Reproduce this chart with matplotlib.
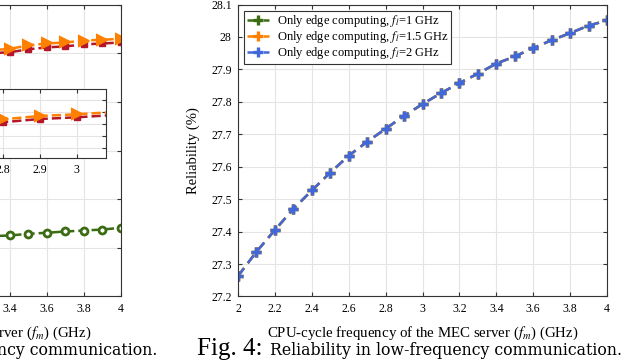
import matplotlib
matplotlib.use('Agg')
import matplotlib.pyplot as plt

plt.rcParams['font.family'] = 'serif'
plt.rcParams['font.serif'] = ['Liberation Serif', 'DejaVu Serif']
plt.rcParams['mathtext.fontset'] = 'stix'

# Fig. 4 dados (as três curvas se sobrepõem)
freq_mec = [2.0, 2.1, 2.2, 2.3, 2.4, 2.5, 2.6, 2.7, 2.8, 2.9, 3.0,
            3.1, 3.2, 3.3, 3.4, 3.5, 3.6, 3.7, 3.8, 3.9, 4.0]
conf_fl1 = [27.263, 27.338, 27.405, 27.470, 27.527, 27.582, 27.634, 27.677,
            27.717, 27.757, 27.793, 27.827, 27.858, 27.887, 27.918, 27.940,
            27.966, 27.990, 28.012, 28.035, 28.051]
conf_fl15 = list(conf_fl1)
conf_fl2 = list(conf_fl1)
rotulos = ['Only edge computing, $f_l$=1 GHz',
           'Only edge computing, $f_l$=1.5 GHz',
           'Only edge computing, $f_l$=2 GHz']

# Fig. 3 (parte visível à esquerda)
freq_esq = [3.2, 3.3, 3.4, 3.5, 3.6, 3.7, 3.8, 3.9, 4.0]
esq_laranja = [75.1, 75.3, 75.45, 75.8, 76.0, 76.1, 76.3, 76.38, 76.48]
esq_vermelho = [74.8, 75.0, 75.1, 75.4, 75.6, 75.7, 75.9, 76.0, 76.1]
esq_verde = [56.1, 56.2, 56.27, 56.44, 56.55, 56.68, 56.78, 56.88, 57.06]
inset_x = [2.7, 2.8, 2.9, 3.0, 3.1]
inset_laranja = [75.80, 75.839, 75.867, 75.881, 75.90]
inset_vermelho = [75.78, 75.815, 75.842, 75.856, 75.875]

verde = '#3b6b12'
laranja = '#ff8000'
azul = '#4068d8'
vermelho = '#b5162a'
cinza_grade = '#e4e4e4'


def estilo(ax):
    ax.grid(True, color=cinza_grade, lw=0.8)
    ax.set_axisbelow(True)
    ax.tick_params(direction='in', top=True, right=True, length=3,
                   labelsize=8.5, color='#333333', pad=4.5)
    for s in ax.spines.values():
        s.set_color('#333333')
        s.set_linewidth(0.8)


fig = plt.figure(figsize=(6.28, 3.6), dpi=100)

rot_x = 'CPU-cycle frequency of the MEC server ($f_m$) (GHz)'

# ---- figura da esquerda (cortada) ----
ax_esq = fig.add_axes([-0.3965, 0.1764, 0.589, 0.811])
ax_esq.plot(freq_esq, esq_vermelho, '--s', color=vermelho, lw=1.8, ms=5)
ax_esq.plot(freq_esq, esq_laranja, '-->', color=laranja, lw=1.8, ms=7,
            mfc=laranja, mew=1.5)
ax_esq.plot(freq_esq, esq_verde, '--o', color=verde, lw=1.8, ms=5,
            mfc='white', mew=2)
ax_esq.set_xlim(2, 4)
ax_esq.set_ylim(50, 80)
ax_esq.set_xticks([2, 2.2, 2.4, 2.6, 2.8, 3, 3.2, 3.4, 3.6, 3.8, 4])
ax_esq.set_xticklabels(['2', '2.2', '2.4', '2.6', '2.8', '3', '3.2', '3.4', '3.6', '3.8', '4'])
ax_esq.set_yticks([50, 55, 60, 65, 70, 75, 80])
estilo(ax_esq)
ax_esq.set_xlabel(rot_x, fontsize=10.7)
ax_esq.xaxis.set_label_coords(0.5, -0.095)

ax_in = fig.add_axes([-0.0541, 0.5611, 0.2229, 0.1917])
ax_in.plot(inset_x, inset_vermelho, '--s', color=vermelho, lw=1.8, ms=5)
ax_in.plot(inset_x, inset_laranja, '-->', color=laranja, lw=1.8, ms=7,
           mfc=laranja, mew=1.5)
ax_in.set_xlim(2.7, 3.08)
ax_in.set_ylim(75.517, 76.092)
ax_in.set_xticks([2.8, 2.9, 3.0])
ax_in.set_xticklabels(['2.8', '2.9', '3'])
ax_in.set_yticks([75.6, 75.7, 75.8, 75.9, 76.0])
estilo(ax_in)

# ---- Fig. 4 ----
ax = fig.add_axes([0.379, 0.1764, 0.5876, 0.811])
estilo(ax)
for y, cor, rot in [(conf_fl1, verde, rotulos[0]),
                    (conf_fl15, laranja, rotulos[1]),
                    (conf_fl2, azul, rotulos[2])]:
    ax.plot(freq_mec, y, linestyle=(0, (4, 2.5)), color=cor, lw=1.8,
            marker='+', ms=7, mew=2.4, label=rot)
ax.set_xlim(2, 4)
ax.set_ylim(27.2, 28.1)
ax.set_xticks([2, 2.2, 2.4, 2.6, 2.8, 3, 3.2, 3.4, 3.6, 3.8, 4])
ax.set_xticklabels(['2', '2.2', '2.4', '2.6', '2.8', '3', '3.2', '3.4', '3.6', '3.8', '4'])
ax.set_yticks([27.2, 27.3, 27.4, 27.5, 27.6, 27.7, 27.8, 27.9, 28, 28.1])
ax.set_yticklabels(['27.2', '27.3', '27.4', '27.5', '27.6', '27.7', '27.8', '27.9', '28', '28.1'])
ax.set_xlabel(rot_x, fontsize=10.7)
ax.xaxis.set_label_coords(0.5, -0.095)
ax.set_ylabel('Reliability (%)', fontsize=10.5)
ax.yaxis.set_label_coords(-0.103, 0.5)
leg = ax.legend(loc='upper left', fontsize=9, frameon=True, fancybox=False,
                edgecolor='#333333', framealpha=1, handlelength=1.8,
                borderpad=0.2, labelspacing=0.0, handletextpad=0.6,
                borderaxespad=0.5)
leg.get_frame().set_linewidth(0.8)

# legendas das figuras
fig.text(197 / 628, 1 - 355 / 360, 'Fig. 4:', fontsize=18, ha='left', va='baseline')
fig.text(622 / 628, 1 - 355 / 360, 'Reliability in low-frequency communication.',
         fontsize=11.3, ha='right', va='baseline', family='DejaVu Serif')
fig.text(157 / 628, 1 - 355 / 360, 'Reliability in high-frequency communication.',
         fontsize=11.3, ha='right', va='baseline', family='DejaVu Serif')

fig.savefig('out.png', dpi=100)
